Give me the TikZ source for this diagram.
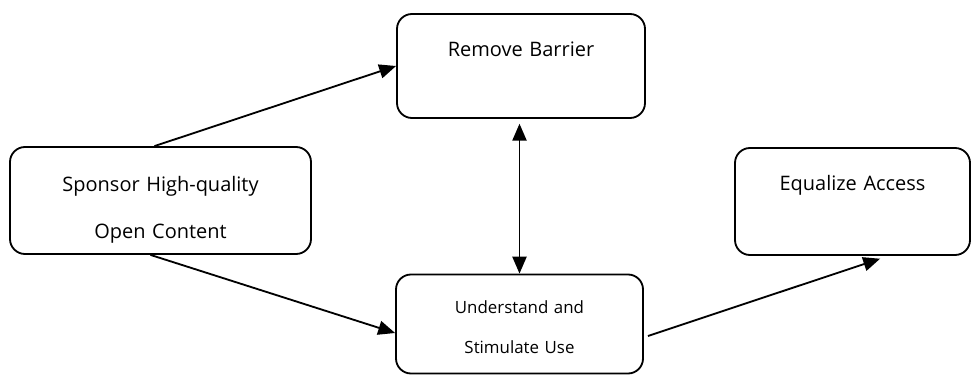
\documentclass[tikz,border=0pt]{standalone}
\usepackage{fontspec}
\setmainfont{Open Sans}
\usetikzlibrary{arrows.meta, positioning, calc}

\begin{document}
\begin{tikzpicture}[
    box/.style={rectangle, draw, rounded corners=0.375cm, line width=1.3pt, inner sep=0pt, text centered, font=\fontsize{14.2}{33}\selectfont},
    smallbox/.style={box, font=\fontsize{12}{28.5}\selectfont},
    arrow/.style={line width=1.3pt, -{Triangle[length=12pt,width=10pt]}},
    dblarrow/.style={line width=1.3pt, {Triangle[length=12pt,width=10pt]}-{Triangle[length=12pt,width=10pt]}}
]
\useasboundingbox (0,0) rectangle (24.275,9.35);

\node[box, text width=6.2cm, text height=1.075cm, text depth=1.525cm] (remove) at (13.025,7.7) {Remove Barrier};
\node[box, text width=7.525cm, text height=1.125cm, text depth=1.55cm] (sponsor) at (4.0125,4.3375) {Sponsor High-quality\\ Open Content};
\node[box, text width=5.875cm, text height=1.075cm, text depth=1.6cm] (equalize) at (21.3125,4.3125) {Equalize Access};
\node[smallbox, text width=6.175cm, text height=0.975cm, text depth=1.5cm] (understand) at (12.9875,1.25) {Understand and\\ Stimulate Use};

\draw[arrow] ([xshift=-0.15cm]sponsor.north) -- (remove.west);
\draw[arrow] ([xshift=-0.25cm]sponsor.south) -- ([yshift=-0.225cm]understand.west);
\draw[dblarrow, shorten <=0.12cm] (understand.north |- remove.south) -- (understand.north);
\draw[arrow] ([xshift=0.1cm, yshift=-0.3cm]understand.east) -- ([xshift=0.69cm, yshift=-0.07cm]equalize.south);

\end{tikzpicture}
\end{document}
